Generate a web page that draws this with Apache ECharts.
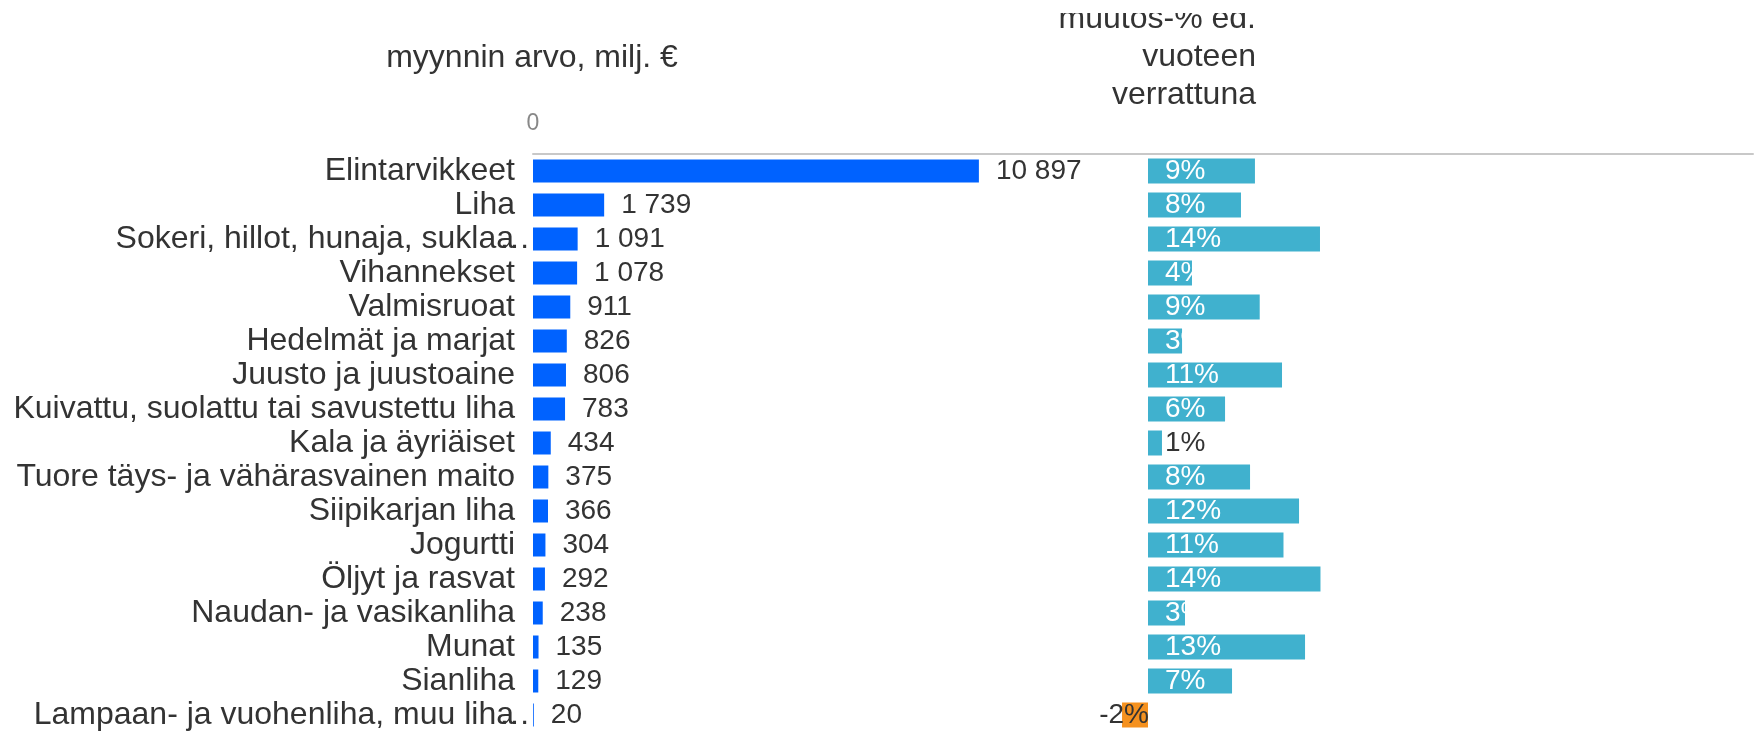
<!DOCTYPE html>
<html>
<head>
<meta charset="utf-8">
<script src="https://cdn.jsdelivr.net/npm/echarts@6/dist/echarts.min.js"></script>
<style>
html,body{margin:0;padding:0;background:#fff;}
#chart{width:1756px;height:732px;}
</style>
</head>
<body>
<div id="chart"></div>
<script>
const categories = [
  'Elintarvikkeet',
  'Liha',
  'Sokeri, hillot, hunaja, suklaa…',
  'Vihannekset',
  'Valmisruoat',
  'Hedelmät ja marjat',
  'Juusto ja juustoaine',
  'Kuivattu, suolattu tai savustettu liha',
  'Kala ja äyriäiset',
  'Tuore täys- ja vähärasvainen maito',
  'Siipikarjan liha',
  'Jogurtti',
  'Öljyt ja rasvat',
  'Naudan- ja vasikanliha',
  'Munat',
  'Sianliha',
  'Lampaan- ja vuohenliha, muu liha…'
];
const salesValues = [10897, 1739, 1091, 1078, 911, 826, 806, 783, 434, 375, 366, 304, 292, 238, 135, 129, 20];
const changeValues = [8.73, 7.59, 14.04, 3.59, 9.12, 2.78, 10.94, 6.29, 1.14, 8.33, 12.33, 11.06, 14.08, 3.02, 12.82, 6.86, -2.12];
const leftTitle = 'myynnin arvo, milj. €';
const rightTitle = 'muutos-% ed.\nvuoteen\nverrattuna';

const FONT = '"Liberation Sans", Arial, Helvetica, sans-serif';
const TEXT = '#333333';
const BLUE = '#0062ff';
const TEAL = '#40b1ce';
const ORANGE = '#f5911e';
const CAT_SIZE = 32;

function fmtThousands(v) {
  return String(v).replace(/\B(?=(\d{3})+(?!\d))/g, ' ');
}

const changeData = changeValues.map(function (v) {
  if (v < 0) {
    return {
      value: v,
      itemStyle: { color: ORANGE },
      label: { position: 'insideRight', offset: [6, 0], color: TEXT }
    };
  }
  const inside = Math.round(v) >= 2;
  return {
    value: v,
    label: { position: 'insideLeft', offset: [12, 0], color: inside ? '#ffffff' : TEXT }
  };
});

const chart = echarts.init(document.getElementById('chart'), null, { renderer: 'canvas' });
chart.setOption({
  animation: false,
  backgroundColor: '#ffffff',
  textStyle: { fontFamily: FONT },
  graphic: [
    {
      type: 'text', x: 532, y: 42,
      style: { text: leftTitle, fill: TEXT, font: CAT_SIZE + 'px ' + FONT, align: 'center', verticalAlign: 'top', lineHeight: 32 }
    },
    {
      type: 'text', x: 1256, y: 0, z: 1,
      style: { text: rightTitle, fill: TEXT, font: CAT_SIZE + 'px ' + FONT, align: 'right', verticalAlign: 'top', lineHeight: 38 }
    },
    {
      type: 'rect', z: 2, silent: true,
      shape: { x: 1040, y: 0, width: 240, height: 13 },
      style: { fill: '#ffffff' }
    }
  ],
  grid: [
    { left: 533, right: 0, top: 154, height: 578, containLabel: false },
    { left: 1086.75, width: 551.25, top: 154, height: 578, containLabel: false }
  ],
  xAxis: [
    {
      gridIndex: 0, type: 'value', min: 0, max: 29815, position: 'top',
      axisLine: { show: true, lineStyle: { color: '#c8c8c8', width: 2 } },
      axisTick: { show: false },
      splitLine: { show: false },
      axisLabel: {
        color: '#888888', fontSize: 23, margin: 19, fontFamily: FONT,
        formatter: function (v) { return v === 0 ? '0' : ''; }
      }
    },
    {
      gridIndex: 1, type: 'value', min: -5, max: 40,
      show: false, splitLine: { show: false }
    }
  ],
  yAxis: [
    {
      gridIndex: 0, type: 'category', data: categories, inverse: true,
      axisLine: { show: false }, axisTick: { show: false },
      axisLabel: {
        interval: 0, color: TEXT, fontSize: CAT_SIZE, margin: 18, fontFamily: FONT,
        formatter: function (v) {
          if (v.slice(-1) === '…') {
            return '{t|' + v.slice(0, -1) + '}{e|…}';
          }
          return v;
        },
        rich: {
          t: { fontSize: CAT_SIZE, color: TEXT, fontFamily: FONT },
          e: { fontSize: CAT_SIZE, color: TEXT, fontFamily: FONT, width: 1, align: 'left' }
        }
      }
    },
    {
      gridIndex: 1, type: 'category', data: categories, inverse: true, show: false
    }
  ],
  series: [
    {
      type: 'bar', xAxisIndex: 0, yAxisIndex: 0,
      data: salesValues, barWidth: 23,
      itemStyle: { color: BLUE },
      label: {
        show: true, position: 'right', distance: 17,
        color: TEXT, fontSize: 28, fontFamily: FONT,
        formatter: function (p) { return fmtThousands(p.value); }
      }
    },
    {
      type: 'bar', xAxisIndex: 1, yAxisIndex: 1,
      data: changeData, barWidth: 25,
      itemStyle: { color: TEAL },
      label: {
        show: true, fontSize: 28, fontFamily: FONT,
        formatter: function (p) { return Math.round(p.value) + '%'; }
      }
    }
  ]
});
</script>
</body>
</html>
